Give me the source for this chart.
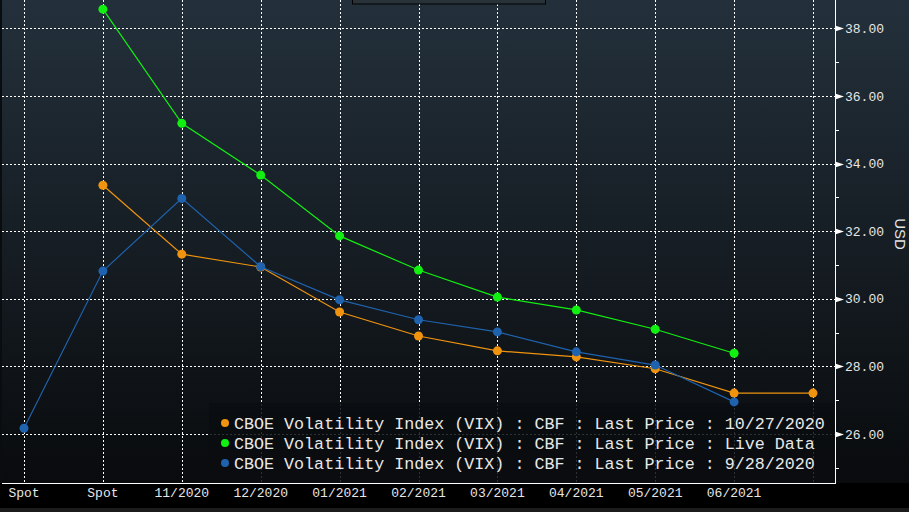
<!DOCTYPE html>
<html>
<head>
<meta charset="utf-8">
<script src="https://cdn.jsdelivr.net/npm/d3@7"></script>
<style>
  body { margin: 0; background: #000; }
  text { font-family: "Liberation Mono", "DejaVu Sans Mono", monospace; }
</style>
</head>
<body>
<script>
// ! Chart data
const xLabels = ["Spot", "Spot", "11/2020", "12/2020", "01/2021", "02/2021",
  "03/2021", "04/2021", "05/2021", "06/2021", ""];
const seriesNames = [
  "CBOE Volatility Index (VIX) : CBF : Last Price : 10/27/2020",
  "CBOE Volatility Index (VIX) : CBF : Last Price : Live Data",
  "CBOE Volatility Index (VIX) : CBF : Last Price : 9/28/2020",
];
// null = no point at that position
const oct27 = [null, 33.36, 31.32, 30.94, 29.61, 28.9, 28.46, 28.28, 27.93, 27.21, 27.21];
const live = [null, 38.57, 35.19, 33.66, 31.86, 30.85, 30.05, 29.67, 29.1, 28.39, null];
const sep28 = [26.17, 30.82, 32.97, 30.95, 29.97, 29.38, 29.02, 28.43, 28.04, 26.95, null];
const seriesColors = ["#f0940f", "#12f012", "#1f62ad"];
const yTicks = [26, 28, 30, 32, 34, 36, 38];

const width = 909;
const height = 512;
const plot = { left: 2, right: 835, top: 0, bottom: 483 };

const svg = d3
  .select("body")
  .append("svg")
  .attr("width", width)
  .attr("height", height);

// ! Background gradient
const grad = svg
  .append("defs")
  .append("linearGradient")
  .attr("id", "bg")
  .attr("x1", "0%")
  .attr("y1", "0%")
  .attr("x2", "0%")
  .attr("y2", "100%");
grad.append("stop").attr("offset", "0%").attr("stop-color", "#23303b");
grad.append("stop").attr("offset", "100%").attr("stop-color", "#090b0d");

svg
  .append("rect")
  .attr("x", 0)
  .attr("y", 0)
  .attr("width", width)
  .attr("height", plot.bottom)
  .attr("fill", "url(#bg)");
svg
  .append("rect")
  .attr("x", 0)
  .attr("y", 0)
  .attr("width", 2)
  .attr("height", plot.bottom)
  .attr("fill", "#0a0d10");
svg
  .append("rect")
  .attr("x", 0)
  .attr("y", 508)
  .attr("width", width)
  .attr("height", 4)
  .attr("fill", "#1b1b1b");

// ! Scales
const xScale = d3
  .scalePoint()
  .domain(d3.range(xLabels.length))
  .range([24, 813]);

const yScale = d3
  .scaleLinear()
  .domain([24.55, 38.84])
  .range([plot.bottom, plot.top]);

// ! Grid lines
const grid = svg.append("g").attr("stroke", "#ffffff").attr("stroke-dasharray", "2,2");
grid
  .selectAll("line.h")
  .data(yTicks)
  .enter()
  .append("line")
  .attr("x1", plot.left)
  .attr("x2", plot.right)
  .attr("y1", (d) => Math.round(yScale(d)) + 0.5)
  .attr("y2", (d) => Math.round(yScale(d)) + 0.5);
grid
  .selectAll("line.v")
  .data(xScale.domain())
  .enter()
  .append("line")
  .attr("x1", (d) => Math.round(xScale(d)) + 0.5)
  .attr("x2", (d) => Math.round(xScale(d)) + 0.5)
  .attr("y1", plot.top)
  .attr("y2", plot.bottom);

// ! Partial box at top
svg
  .append("rect")
  .attr("x", 352.5)
  .attr("y", -10)
  .attr("width", 193)
  .attr("height", 14)
  .attr("fill", "#283238")
  .attr("stroke", "#000");

// ! Legend background (under the series)
const legend = svg.append("g");
legend
  .append("rect")
  .attr("x", 209)
  .attr("y", 403)
  .attr("width", plot.right - 209)
  .attr("height", plot.bottom - 403)
  .attr("fill", "#0b0d10")
  .attr("opacity", 0.85);

// ! Lines and points
const allSeries = [oct27, live, sep28];
allSeries.forEach((vals, s) => {
  const pts = vals.map((v, i) => ({ i: i, v: v })).filter((d) => d.v !== null);
  svg
    .append("path")
    .datum(pts)
    .attr("fill", "none")
    .attr("stroke", seriesColors[s])
    .attr("stroke-width", 1.2)
    .attr(
      "d",
      d3
        .line()
        .x((d) => xScale(d.i))
        .y((d) => yScale(d.v))
    );
  svg
    .selectAll(null)
    .data(pts)
    .enter()
    .append("circle")
    .attr("cx", (d) => xScale(d.i))
    .attr("cy", (d) => yScale(d.v))
    .attr("r", 4.5)
    .attr("fill", seriesColors[s]);
});

// ! Axes
const yAxisG = svg.append("g");
yAxisG
  .append("line")
  .attr("x1", plot.right + 0.5)
  .attr("x2", plot.right + 0.5)
  .attr("y1", plot.top)
  .attr("y2", plot.bottom)
  .attr("stroke", "#fff");
yAxisG
  .selectAll("line.minor")
  .data(d3.range(25, 39, 2))
  .enter()
  .append("line")
  .attr("x1", plot.right)
  .attr("x2", plot.right + 4)
  .attr("y1", (d) => Math.round(yScale(d)) + 0.5)
  .attr("y2", (d) => Math.round(yScale(d)) + 0.5)
  .attr("stroke", "#fff");
yAxisG
  .selectAll("path.tri")
  .data(yTicks)
  .enter()
  .append("path")
  .attr("d", (d) => {
    const y = Math.round(yScale(d)) + 0.5;
    return `M${plot.right},${y - 3}L${plot.right + 9},${y}L${plot.right},${y + 3}Z`;
  })
  .attr("fill", "#fff");
yAxisG
  .selectAll("text")
  .data(yTicks)
  .enter()
  .append("text")
  .attr("x", 845)
  .attr("y", (d) => yScale(d))
  .attr("dy", "0.35em")
  .attr("fill", "#e6e6e6")
  .attr("font-size", 13)
  .text((d) => d.toFixed(2));
svg
  .append("text")
  .attr("transform", `translate(895, 234) rotate(90)`)
  .attr("text-anchor", "middle")
  .attr("fill", "#e6e6e6")
  .attr("font-size", 15)
  .style("font-family", "'Liberation Sans', Arial, sans-serif")
  .text("USD");

const xAxisG = svg.append("g");
xAxisG
  .append("line")
  .attr("x1", plot.left)
  .attr("x2", plot.right + 1)
  .attr("y1", plot.bottom + 0.5)
  .attr("y2", plot.bottom + 0.5)
  .attr("stroke", "#fff");
xAxisG
  .selectAll("text")
  .data(xScale.domain())
  .enter()
  .append("text")
  .attr("x", (d) => xScale(d))
  .attr("y", 497)
  .attr("text-anchor", "middle")
  .attr("fill", "#e6e6e6")
  .attr("font-size", 13)
  .text((d) => xLabels[d]);

// ! Legend entries
const rows = legend
  .selectAll("g")
  .data(seriesNames)
  .enter()
  .append("g")
  .attr("transform", (d, i) => `translate(0, ${423 + i * 20})`);
rows
  .append("circle")
  .attr("cx", 225)
  .attr("cy", 0)
  .attr("r", 4)
  .attr("fill", (d, i) => seriesColors[i]);
rows
  .append("text")
  .attr("x", 234)
  .attr("y", 0)
  .attr("dy", "0.35em")
  .attr("fill", "#e8e8e8")
  .attr("font-size", 16.7)
  .text((d) => d);
</script>
</body>
</html>
